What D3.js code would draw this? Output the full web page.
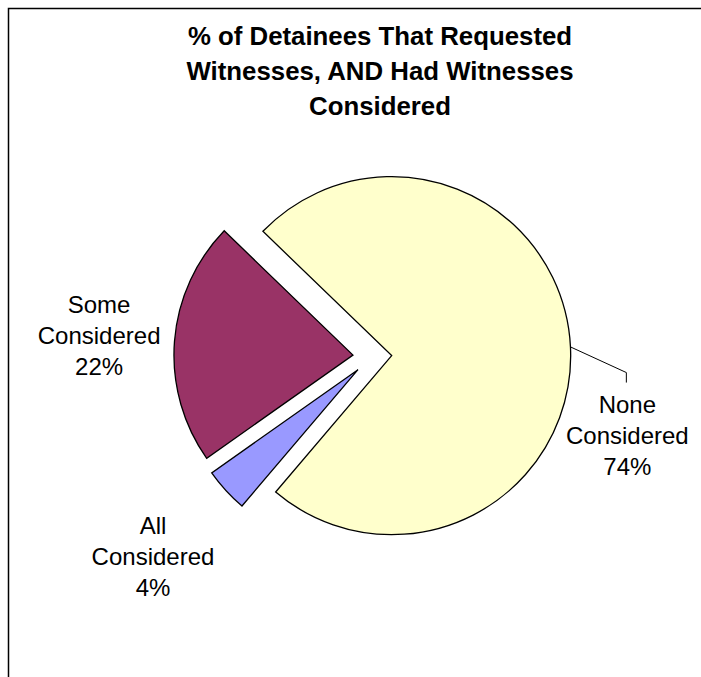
<!DOCTYPE html>
<html>
<head>
<meta charset="utf-8">
<script src="https://cdn.jsdelivr.net/npm/d3@7"></script>
<style>
  html, body { margin: 0; background: #fff; overflow: hidden; }
  svg { display: block; }
  text { font-family: "Liberation Sans", Arial, sans-serif; fill: #000; }
</style>
</head>
<body>
<svg id="chart" width="701" height="677"></svg>
<script>
// data
const categories = ["None Considered", "All Considered", "Some Considered"];
const values = [74, 4, 22];
const colors = ["#ffffcc", "#9999ff", "#993366"];
const titleLines = [
  "% of Detainees That Requested",
  "Witnesses, AND Had Witnesses",
  "Considered"
];

// layout
const width = 701, height = 677;
const cx = 372.3, cy = 356.6, radius = 179, explode = 19.4;
const lineGap = 31;
// label placement per slice: distance from centre, angle turn (deg), leader line
const labelLayout = [
  { r: 267, turn: 20, leader: true },
  { r: 297, turn: 0, leader: false },
  { r: 274, turn: 0, leader: false }
];

const svg = d3.select("#chart");

// frame (only top and left edges fall inside the picture)
svg.append("path")
  .attr("d", "M8.5," + height + "V8.5H" + width)
  .attr("fill", "none")
  .attr("stroke", "#000")
  .attr("stroke-width", 1.5);

svg.append("g")
  .selectAll("text")
  .data(titleLines)
  .join("text")
  .attr("x", 380)
  .attr("y", (d, i) => 45 + i * 35)
  .attr("text-anchor", "middle")
  .attr("font-size", 25.8)
  .attr("font-weight", "bold")
  .text(d => d);

const pie = d3.pie()
  .sort(null)
  .value(d => d)
  .startAngle(-46 * Math.PI / 180)
  .endAngle(314 * Math.PI / 180);

const arcs = pie(values);
const arc = d3.arc().innerRadius(0).outerRadius(radius);

const mid = d => (d.startAngle + d.endAngle) / 2;

const chart = svg.append("g").attr("transform", "translate(" + cx + "," + cy + ")");

chart.selectAll("path.slice")
  .data(arcs)
  .join("path")
  .attr("class", "slice")
  .attr("transform", d => {
    const a = mid(d);
    return "translate(" + Math.sin(a) * explode + "," + (-Math.cos(a) * explode) + ")";
  })
  .attr("d", arc)
  .attr("fill", (d, i) => colors[i])
  .attr("stroke", "#000")
  .attr("stroke-width", 1.3)
  .attr("stroke-linejoin", "miter");

// labels
arcs.forEach((d, i) => {
  const lay = labelLayout[i];
  const a = mid(d) + lay.turn * Math.PI / 180;
  const lx = Math.sin(a) * lay.r;
  const ly = -Math.cos(a) * lay.r;
  const words = categories[i].split(" ");
  const lines = [words[0], words.slice(1).join(" "), values[i] + "%"];

  chart.append("g")
    .selectAll("text")
    .data(lines)
    .join("text")
    .attr("x", lx)
    .attr("y", (t, j) => ly + 8.6 + (j - 1) * lineGap)
    .attr("text-anchor", "middle")
    .attr("font-size", 24)
    .text(t => t);

  if (lay.leader) {
    const m = mid(d);
    const sx = Math.sin(m) * (radius + explode);
    const sy = -Math.cos(m) * (radius + explode);
    chart.append("path")
      .attr("d", d3.line()([[sx, sy], [lx - 1, ly - 63], [lx - 1, ly - 53]]))
      .attr("fill", "none")
      .attr("stroke", "#000")
      .attr("stroke-width", 1);
  }
});
</script>
</body>
</html>
